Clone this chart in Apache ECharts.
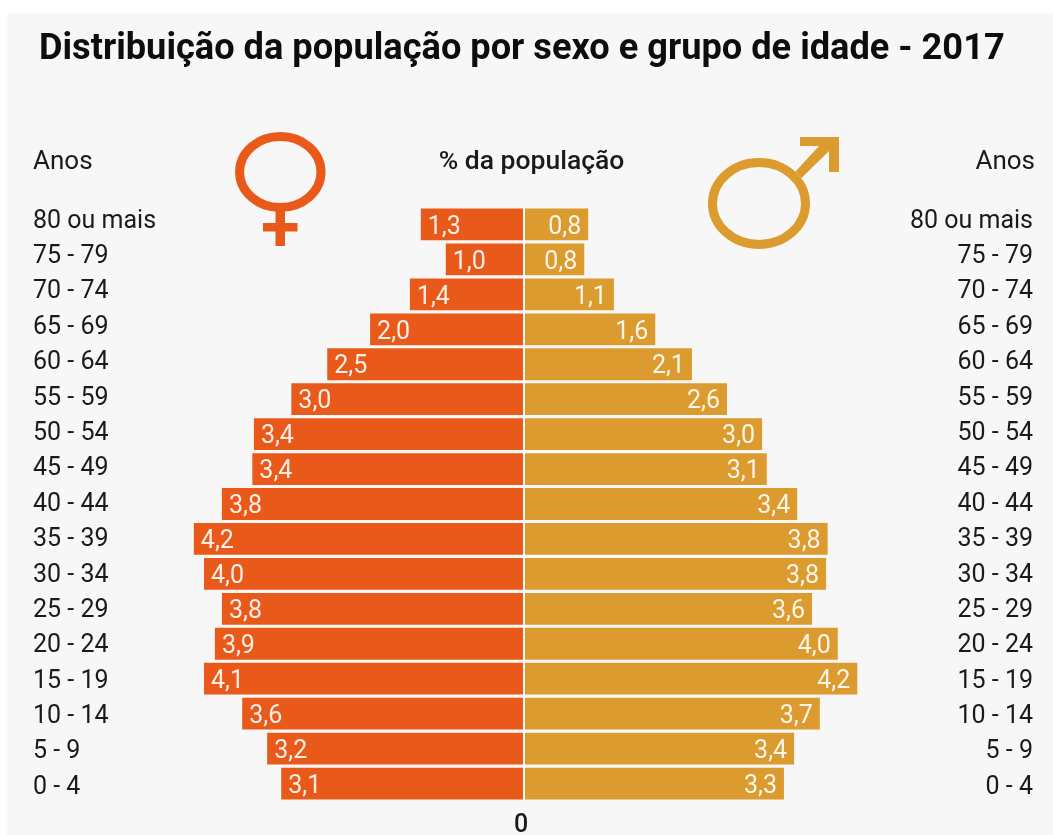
<!DOCTYPE html>
<html><head><meta charset="utf-8">
<style>html,body{margin:0;padding:0;background:#fff}#c{width:1053px;height:835px}</style>
<script src="https://cdn.jsdelivr.net/npm/echarts@6/dist/echarts.min.js"></script>
</head><body><div id="c"></div>
<script>
const ageGroups = ['80 ou mais','75 - 79','70 - 74','65 - 69','60 - 64','55 - 59','50 - 54','45 - 49','40 - 44','35 - 39','30 - 34','25 - 29','20 - 24','15 - 19','10 - 14','5 - 9','0 - 4'];
const femaleLabels = ['1,3','1,0','1,4','2,0','2,5','3,0','3,4','3,4','3,8','4,2','4,0','3,8','3,9','4,1','3,6','3,2','3,1'];
const maleLabels = ['0,8','0,8','1,1','1,6','2,1','2,6','3,0','3,1','3,4','3,8','3,8','3,6','4,0','4,2','3,7','3,4','3,3'];
// bar lengths (they differ slightly from the printed labels)
const femaleValues = [1.31,0.99,1.45,1.96,2.51,2.97,3.45,3.47,3.86,4.22,4.09,3.86,3.95,4.09,3.60,3.28,3.10];
const maleValues = [0.81,0.76,1.14,1.67,2.14,2.59,3.04,3.10,3.49,3.88,3.86,3.68,4.01,4.26,3.78,3.45,3.32];
const femaleColor = '#e95a1a', maleColor = '#dc9b2f', ink = '#1a1a1a';
const FONT = 'Roboto';
const labelStyle = {fontFamily:FONT,fontSize:25,color:'#fff',opacity:.9,offset:[0,3]};

const chart = echarts.init(document.getElementById('c'),null,{renderer:'canvas'});
const catAxis = (grid) => ({type:'category',gridIndex:grid,inverse:true,data:ageGroups,axisLine:{show:false},axisTick:{show:false},axisLabel:{show:false},splitLine:{show:false}});
const ageAxis = (pos,align,margin) => ({type:'category',gridIndex:2,position:pos,inverse:true,data:ageGroups,axisLine:{show:false},axisTick:{show:false},splitLine:{show:false},
  axisLabel:{show:true,interval:0,align,margin,fontFamily:FONT,fontSize:25,color:ink}});
const valAxis = (grid,inverse) => ({type:'value',gridIndex:grid,min:0,max:5,inverse,show:false,splitLine:{show:false}});
chart.setOption({
  animation:false,
  backgroundColor:'#fff',
  title:{text:'Distribuição da população por sexo e grupo de idade - 2017',left:34,top:27,
    textStyle:{fontFamily:FONT,fontWeight:'bold',fontSize:36.2,color:'#0d0d0d'}},
  grid:[
    {left:133,width:390,top:207,height:594},
    {left:525,width:390,top:207,height:594},
    {left:133,width:782,top:203.8,height:601.4}
  ],
  xAxis:[valAxis(0,true),valAxis(1,false),{type:'value',gridIndex:2,show:false,splitLine:{show:false}}],
  yAxis:[catAxis(0),catAxis(1),ageAxis('left','left',100),ageAxis('right','right',118)],
  series:[
    {name:'Mulheres',type:'bar',xAxisIndex:0,yAxisIndex:0,data:femaleValues,barCategoryGap:'9%',itemStyle:{color:femaleColor},
      label:{show:true,...labelStyle,position:'insideLeft',distance:7,formatter:p=>femaleLabels[p.dataIndex]}},
    {name:'Homens',type:'bar',xAxisIndex:1,yAxisIndex:1,data:maleValues,barCategoryGap:'9%',itemStyle:{color:maleColor},
      label:{show:true,...labelStyle,position:'insideRight',distance:7,formatter:p=>maleLabels[p.dataIndex]}}
  ],
  graphic:[
    {type:'rect',z:-10,shape:{x:7.4,y:13.5,width:1046,height:822},style:{fill:'#f7f7f8'},silent:true},
    {type:'text',style:{text:'Anos',x:33,y:162,align:'left',verticalAlign:'middle',font:'26px Roboto',fill:ink}},
    {type:'text',style:{text:'Anos',x:1035,y:162,align:'right',verticalAlign:'middle',font:'26px Roboto',fill:ink}},
    {type:'text',style:{text:'% da população',x:531.5,y:162,align:'center',verticalAlign:'middle',font:'500 26.5px Roboto',fill:ink}},
    {type:'text',style:{text:'0',x:521,y:826,align:'center',verticalAlign:'middle',font:'500 25px Roboto',fill:ink}},
    {type:'ellipse',shape:{cx:280.3,cy:172,rx:40.7,ry:35.5},style:{fill:'none',stroke:femaleColor,lineWidth:9}},
    {type:'rect',shape:{x:275.5,y:208,width:9.5,height:38},style:{fill:femaleColor}},
    {type:'rect',shape:{x:263,y:223,width:34.5,height:8.5},style:{fill:femaleColor}},
    {type:'ellipse',shape:{cx:759,cy:203.5,rx:46.5,ry:41},style:{fill:'none',stroke:maleColor,lineWidth:9}},
    {type:'polygon',shape:{points:[[800,137],[839,137],[839,172],[829,172],[829,151],[801.5,178],[795.5,171.5],[819,146],[800,146]]},style:{fill:maleColor}}
  ]
});
</script></body></html>
